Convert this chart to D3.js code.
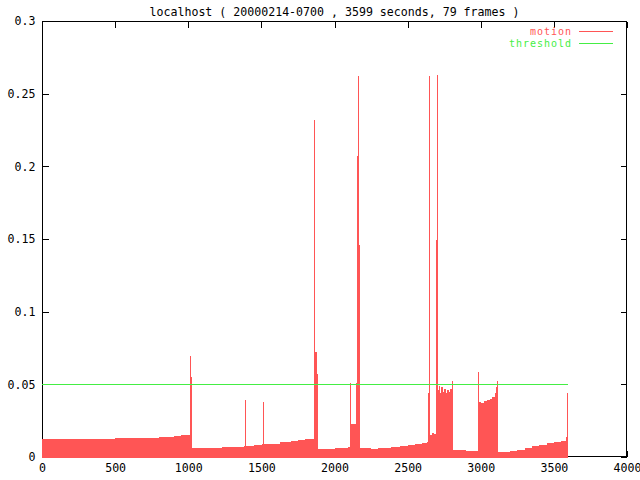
<!DOCTYPE html>
<html><head><meta charset="utf-8">
<script src="https://cdn.jsdelivr.net/npm/d3@7"></script>
<style>
body{margin:0;background:#fff;}
text{font-family:"DejaVu Sans Mono","Liberation Mono",monospace;font-size:11.6px;}
</style></head>
<body><svg id="c" width="640" height="480"></svg>
<script>
const titleText = "localhost ( 20000214-0700 , 3599 seconds, 79 frames )";
const xTicks = [0,500,1000,1500,2000,2500,3000,3500,4000];
const yTicks = [0,0.05,0.1,0.15,0.2,0.25,0.3];
const yTickLabels = ["0","0.05","0.1","0.15","0.2","0.25","0.3"];
const seriesNames = ["motion","threshold"];
const seriesColors = ["#ff5555","#44ee44"];
const thresholdValue = 0.05;
const thresholdTimes = [0,3599];
// seconds / motion readings (step-after samples)
const seconds = [
 0,100,200,300,400,500,600,700,800,850,900,950,990,1010,1017,
 1024,1100,1200,1230,1300,1380,1386,1392,1450,1505,1509,1515,1560,1630,1700,1750,1800,1850,1863,1870,1877,
 1884,1950,2000,2050,2090,2104,2110,2150,2156,2163,2170,
 2177,2250,2300,2380,2385,2450,2500,2550,2600,2630,2639,2646,2653,2670,2680,2692,2698,
 2705,2712,2720,2730,2740,2750,2760,2770,2780,2790,2800,2806,
 2813,2850,2900,2950,2979,
 2986,3000,3020,3040,3060,3080,3096,3102,3109,
 3116,3150,3200,3250,3300,3350,3400,3450,3500,3550,3585,3592,3599];
const motion = [
 0.0124,0.0124,0.0125,0.0126,0.0127,0.0128,0.0129,0.0132,0.0137,0.0140,0.0145,0.0148,0.0152,0.0695,0.0550,
 0.0060,0.0059,0.0060,0.0067,0.0072,0.0078,0.0392,0.0079,0.0083,0.0088,0.0376,0.0089,0.0091,0.0100,0.0108,0.0115,0.0122,0.0126,0.2320,0.0720,0.0570,
 0.0055,0.0058,0.0060,0.0062,0.0068,0.0510,0.0227,0.0510,0.2070,0.2620,0.1460,
 0.0060,0.0058,0.0060,0.0062,0.0068,0.0075,0.0080,0.0088,0.0095,0.0103,0.0438,0.2620,0.0152,0.0165,0.0158,0.1490,0.2630,
 0.0460,0.0487,0.0440,0.0480,0.0450,0.0470,0.0440,0.0460,0.0450,0.0470,0.0460,0.0520,
 0.0048,0.0045,0.0042,0.0044,0.0587,
 0.0380,0.0375,0.0385,0.0392,0.0400,0.0410,0.0438,0.0484,0.0525,
 0.0037,0.0037,0.0040,0.0050,0.0062,0.0074,0.0083,0.0093,0.0103,0.0113,0.0135,0.0438,0.0438];

const svg = d3.select("#c");
const L=42,R=627,T=21,B=457;
const x = d3.scaleLinear().domain([0,4000]).range([L,R]);
const y = d3.scaleLinear().domain([0,0.3]).range([B,T]);

// title
svg.append("text").attr("x",(L+R)/2).attr("y",16).attr("text-anchor","middle").text(titleText);

// border
svg.append("rect").attr("x",L+0.5).attr("y",T+0.5).attr("width",R-L-1).attr("height",B-T-1)
  .attr("fill","none").attr("stroke","#000").attr("shape-rendering","crispEdges");

function styleAxis(g){
  g.select(".domain").remove();
  g.selectAll("line").attr("stroke","#000").attr("shape-rendering","crispEdges");
  g.selectAll("text").attr("fill","#000").style("font-family",'"DejaVu Sans Mono","Liberation Mono",monospace').style("font-size","11.6px");
}
svg.append("g").attr("transform",`translate(${L+0.5},0)`)
  .call(d3.axisLeft(y).tickValues(yTicks).tickFormat((d,i)=>yTickLabels[i]).tickSize(-6).tickSizeOuter(0).tickPadding(7))
  .call(styleAxis);
svg.append("g").attr("transform",`translate(${R-0.5},0)`)
  .call(d3.axisRight(y).tickValues(yTicks).tickFormat("").tickSize(-6).tickSizeOuter(0))
  .call(styleAxis);
svg.append("g").attr("transform",`translate(0,${B-0.5})`)
  .call(d3.axisBottom(x).tickValues(xTicks).tickFormat(d3.format("d")).tickSize(-6).tickSizeOuter(0).tickPadding(7))
  .call(styleAxis);
svg.append("g").attr("transform",`translate(0,${T+0.5})`)
  .call(d3.axisTop(x).tickValues(xTicks).tickFormat("").tickSize(-6).tickSizeOuter(0))
  .call(styleAxis);

// motion (impulse-like filled steps)
const pts = seconds.map((s,i)=>({s, v:motion[i]}));
const area = d3.area().curve(d3.curveStepAfter)
  .x(d=>x(d.s)).y0(y(0)+0.5).y1(d=>y(d.v));
svg.append("path").datum(pts).attr("d",area).attr("fill",seriesColors[0]).attr("shape-rendering","crispEdges");

// threshold
const line = d3.line().x(d=>x(d)).y(()=>Math.round(y(thresholdValue))+0.5);
svg.append("path").datum(thresholdTimes).attr("d",line).attr("fill","none")
  .attr("stroke",seriesColors[1]).attr("stroke-width",1).attr("shape-rendering","crispEdges");

// legend
const leg = svg.append("g");
const legY = [31,43];
seriesNames.forEach((n,i)=>{
  leg.append("text").attr("x",572).attr("y",legY[i]).attr("dy","0.35em").attr("text-anchor","end")
    .style("font-size","10px").style("letter-spacing","0.98px")
    .attr("fill",seriesColors[i]).text(n);
  leg.append("line").attr("x1",579).attr("x2",613).attr("y1",legY[i]+0.5).attr("y2",legY[i]+0.5)
    .attr("stroke",seriesColors[i]).attr("shape-rendering","crispEdges");
});
</script></body></html>
